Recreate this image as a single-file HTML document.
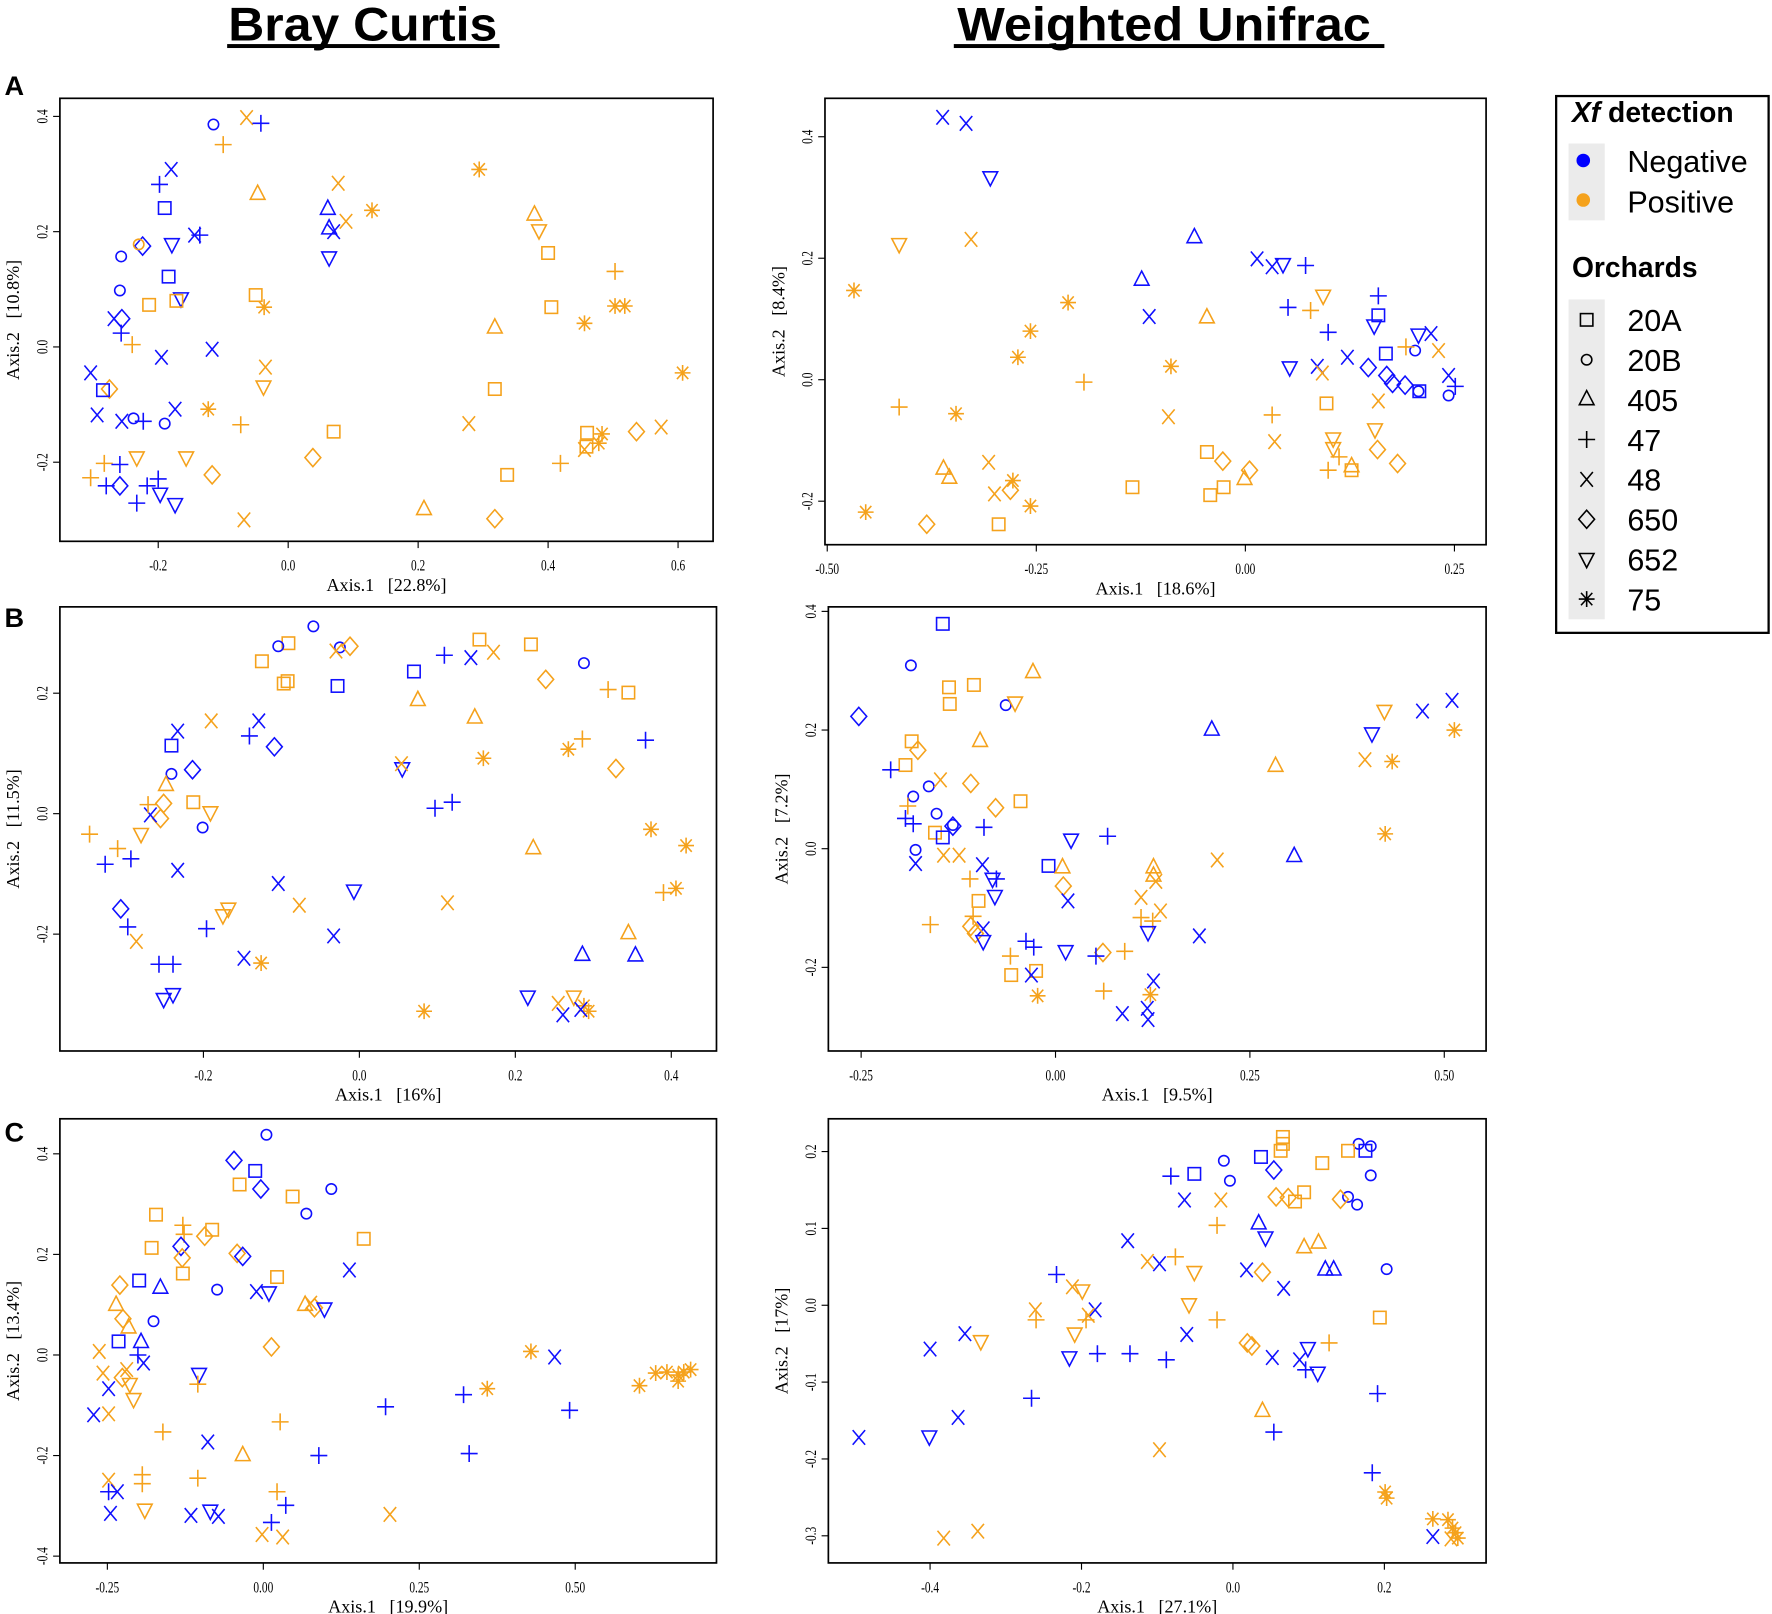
<!DOCTYPE html>
<html><head><meta charset="utf-8"><style>html,body{margin:0;padding:0;background:#fff}svg{display:block}</style></head>
<body>
<svg id="fig" xmlns="http://www.w3.org/2000/svg" width="1772" height="1614" viewBox="0 0 1568 1428.2" preserveAspectRatio="none">
<rect x="0" y="0" width="1568" height="1428.2" fill="#fff"/>
<g>
<text x="321" y="36" text-anchor="middle" font-family="Liberation Sans, sans-serif" font-weight="bold" font-size="42" textLength="238" lengthAdjust="spacingAndGlyphs">Bray Curtis</text>
<rect x="201" y="39" width="241" height="3.5" fill="#000"/></g>
<g>
<text x="1030" y="36" text-anchor="middle" font-family="Liberation Sans, sans-serif" font-weight="bold" font-size="42" textLength="366" lengthAdjust="spacingAndGlyphs">Weighted Unifrac</text>
<rect x="844" y="39" width="381" height="3.5" fill="#000"/></g>
<text x="4" y="84" font-family="Liberation Sans, sans-serif" font-weight="bold" font-size="24">A</text>
<text x="4" y="555" font-family="Liberation Sans, sans-serif" font-weight="bold" font-size="24">B</text>
<text x="4" y="1010" font-family="Liberation Sans, sans-serif" font-weight="bold" font-size="24">C</text>
<g>
<rect x="1377" y="85" width="188" height="475" fill="#fff" stroke="#000" stroke-width="2"/>
<text x="1391" y="108" font-family="Liberation Sans, sans-serif" font-weight="bold" font-size="25"><tspan font-style="italic">Xf</tspan> detection</text>
<rect x="1388" y="127" width="32" height="68" fill="#ebebeb"/>
<circle cx="1401" cy="142" r="6" fill="#0000ff"/>
<circle cx="1401" cy="177" r="6" fill="#f5a21c"/>
<text x="1440" y="152" font-family="Liberation Sans, sans-serif" font-size="27">Negative</text>
<text x="1440" y="188" font-family="Liberation Sans, sans-serif" font-size="27">Positive</text>
<text x="1391" y="245" font-family="Liberation Sans, sans-serif" font-weight="bold" font-size="25">Orchards</text>
<rect x="1388" y="265" width="32" height="283" fill="#ebebeb"/>
<g id="legShapes"></g>
</g>
<g id="panels"></g>
</svg>
<script>
const NS="http://www.w3.org/2000/svg";
const orchardNames=["20A","20B","405","47","48","650","652","75"];
const orchardShapes=["s","o","t","p","x","d","v","a"];
const groupColors={b:"#1010ff",o:"#f5a21c"};
// [axis1, axis2, shape, group]
const pointsA_BC=[[-0.115,0.386,"o","b"],[-0.064,0.398,"x","o"],[-0.042,0.388,"p","b"],[-0.10,0.351,"p","o"],[-0.18,0.308,"x","b"],[-0.198,0.282,"p","b"],[-0.19,0.241,"s","b"],[-0.047,0.265,"t","o"],[0.077,0.284,"x","o"],[0.294,0.308,"a","o"],[0.061,0.239,"t","b"],[0.063,0.205,"t","b"],[0.07,0.2,"x","b"],[0.089,0.218,"x","o"],[0.129,0.237,"a","o"],[0.063,0.155,"v","b"],[0.379,0.229,"t","o"],[0.386,0.202,"v","o"],[0.40,0.163,"s","o"],[-0.257,0.157,"o","b"],[-0.224,0.175,"d","b"],[-0.23,0.178,"o","o"],[-0.179,0.178,"v","b"],[-0.136,0.194,"p","b"],[-0.144,0.194,"x","b"],[-0.184,0.122,"s","b"],[-0.259,0.098,"o","b"],[-0.165,0.084,"v","b"],[-0.172,0.08,"s","o"],[-0.214,0.073,"s","o"],[-0.05,0.09,"s","o"],[-0.037,0.069,"a","o"],[0.405,0.069,"s","o"],[0.503,0.131,"p","o"],[0.503,0.071,"a","o"],[0.518,0.071,"a","o"],[0.456,0.041,"a","o"],[-0.256,0.049,"d","b"],[-0.268,0.049,"x","b"],[-0.257,0.024,"p","b"],[-0.24,0.004,"p","o"],[0.318,0.033,"t","o"],[-0.195,-0.018,"x","b"],[-0.117,-0.004,"x","b"],[-0.035,-0.035,"x","o"],[-0.038,-0.069,"v","o"],[0.607,-0.045,"a","o"],[-0.304,-0.045,"x","b"],[-0.275,-0.073,"d","o"],[-0.285,-0.075,"s","b"],[0.318,-0.073,"s","o"],[-0.294,-0.118,"x","b"],[-0.238,-0.124,"o","b"],[-0.19,-0.133,"o","b"],[-0.223,-0.129,"p","b"],[-0.174,-0.108,"x","b"],[-0.256,-0.129,"x","b"],[-0.123,-0.108,"a","o"],[-0.073,-0.135,"p","o"],[0.07,-0.147,"s","o"],[0.278,-0.133,"x","o"],[-0.233,-0.192,"v","o"],[-0.157,-0.192,"v","o"],[-0.117,-0.222,"d","o"],[0.038,-0.192,"d","o"],[0.46,-0.149,"s","o"],[0.456,-0.178,"x","o"],[0.459,-0.173,"s","o"],[0.483,-0.151,"a","o"],[0.478,-0.167,"a","o"],[0.536,-0.147,"d","o"],[0.574,-0.139,"x","o"],[0.419,-0.202,"p","o"],[0.337,-0.222,"s","o"],[-0.283,-0.202,"p","o"],[-0.304,-0.227,"p","o"],[-0.259,-0.204,"p","b"],[-0.28,-0.241,"p","b"],[-0.259,-0.241,"d","b"],[-0.217,-0.241,"p","b"],[-0.20,-0.229,"p","b"],[-0.233,-0.271,"p","b"],[-0.197,-0.255,"v","b"],[-0.174,-0.273,"v","b"],[-0.068,-0.30,"x","o"],[0.209,-0.282,"t","o"],[0.318,-0.298,"d","o"]];
const pointsA_WU=[[-0.362,0.432,"x","b"],[-0.334,0.422,"x","b"],[-0.305,0.333,"v","b"],[-0.414,0.223,"v","o"],[-0.328,0.231,"x","o"],[-0.468,0.147,"a","o"],[-0.061,0.234,"t","b"],[-0.124,0.164,"t","b"],[-0.115,0.104,"x","b"],[-0.046,0.102,"t","o"],[-0.212,0.127,"a","o"],[-0.257,0.08,"a","o"],[-0.272,0.037,"a","o"],[-0.089,0.022,"a","o"],[-0.193,-0.004,"p","o"],[-0.414,-0.045,"p","o"],[-0.346,-0.056,"a","o"],[-0.092,-0.061,"x","o"],[0.014,0.199,"x","b"],[0.032,0.186,"x","b"],[0.045,0.19,"v","b"],[0.072,0.188,"p","b"],[0.051,0.119,"p","b"],[0.078,0.114,"p","o"],[0.093,0.138,"v","o"],[0.159,0.138,"p","b"],[0.159,0.106,"s","b"],[0.154,0.089,"v","b"],[0.222,0.076,"x","b"],[0.207,0.074,"v","b"],[0.203,0.048,"o","b"],[0.231,0.048,"x","o"],[0.192,0.054,"p","o"],[0.099,0.078,"p","b"],[0.053,0.02,"v","b"],[0.086,0.022,"x","b"],[0.122,0.037,"x","b"],[0.147,0.02,"d","b"],[0.169,0.007,"d","b"],[0.176,-0.006,"d","b"],[0.191,-0.009,"d","b"],[0.168,0.043,"s","b"],[0.207,-0.019,"o","b"],[0.243,-0.026,"o","b"],[0.251,-0.011,"p","b"],[0.243,0.007,"x","b"],[0.208,-0.019,"s","b"],[0.092,0.011,"x","o"],[0.097,-0.039,"s","o"],[0.159,-0.035,"x","o"],[0.105,-0.097,"v","o"],[0.155,-0.082,"v","o"],[0.105,-0.113,"v","o"],[0.182,-0.138,"d","o"],[0.158,-0.115,"d","o"],[0.032,-0.058,"p","o"],[0.035,-0.102,"x","o"],[0.112,-0.127,"p","o"],[0.099,-0.149,"p","o"],[0.127,-0.143,"t","o"],[0.127,-0.149,"s","o"],[-0.046,-0.119,"s","o"],[-0.027,-0.134,"d","o"],[-0.026,-0.177,"s","o"],[-0.042,-0.19,"s","o"],[0.005,-0.149,"d","o"],[-0.001,-0.164,"t","o"],[-0.135,-0.177,"s","o"],[-0.361,-0.147,"t","o"],[-0.354,-0.162,"t","o"],[-0.307,-0.136,"x","o"],[-0.278,-0.166,"a","o"],[-0.281,-0.182,"d","o"],[-0.30,-0.188,"x","o"],[-0.257,-0.208,"a","o"],[-0.454,-0.218,"a","o"],[-0.381,-0.238,"d","o"],[-0.295,-0.238,"s","o"]];
const pointsB_BC=[[-0.059,0.311,"o","b"],[-0.125,0.253,"s","o"],[-0.091,0.283,"s","o"],[-0.104,0.278,"o","b"],[-0.097,0.216,"s","o"],[-0.092,0.22,"s","o"],[-0.025,0.276,"o","b"],[-0.012,0.278,"d","o"],[-0.03,0.27,"x","o"],[-0.028,0.212,"s","b"],[0.07,0.236,"s","b"],[0.109,0.263,"p","b"],[0.143,0.259,"x","b"],[0.154,0.289,"s","o"],[0.172,0.268,"x","o"],[0.22,0.281,"s","o"],[0.288,0.25,"o","b"],[0.239,0.223,"d","o"],[0.319,0.206,"p","o"],[0.345,0.201,"s","o"],[0.075,0.188,"t","o"],[0.148,0.159,"t","o"],[0.367,0.122,"p","b"],[0.329,0.075,"d","o"],[0.268,0.107,"a","o"],[0.286,0.124,"p","o"],[0.159,0.092,"a","o"],[0.055,0.075,"v","b"],[0.054,0.083,"x","o"],[-0.19,0.154,"x","o"],[-0.129,0.154,"x","b"],[-0.141,0.129,"p","b"],[-0.109,0.111,"d","b"],[-0.233,0.137,"x","b"],[-0.241,0.113,"s","b"],[-0.241,0.066,"o","b"],[-0.214,0.073,"d","b"],[-0.248,0.047,"t","o"],[-0.251,0.017,"d","o"],[-0.255,-0.008,"d","o"],[-0.268,-0.002,"x","b"],[-0.28,-0.034,"v","o"],[-0.271,0.015,"p","o"],[-0.213,0.019,"s","o"],[-0.191,0.002,"v","o"],[-0.201,-0.023,"o","b"],[0.097,0.009,"p","b"],[0.119,0.019,"p","b"],[0.223,-0.058,"t","o"],[-0.346,-0.034,"p","o"],[-0.31,-0.058,"p","o"],[-0.326,-0.084,"p","b"],[-0.293,-0.075,"p","b"],[-0.233,-0.094,"x","b"],[-0.196,-0.191,"p","b"],[-0.104,-0.116,"x","b"],[-0.007,-0.128,"v","b"],[-0.077,-0.152,"x","o"],[0.113,-0.148,"x","o"],[-0.175,-0.169,"v","o"],[-0.168,-0.158,"v","o"],[-0.033,-0.203,"x","b"],[-0.306,-0.158,"d","b"],[-0.297,-0.188,"p","b"],[-0.286,-0.212,"x","o"],[-0.257,-0.25,"p","b"],[-0.239,-0.25,"p","b"],[-0.251,-0.308,"v","b"],[-0.239,-0.30,"v","b"],[-0.148,-0.24,"x","b"],[-0.126,-0.248,"a","o"],[0.374,-0.026,"a","o"],[0.419,-0.053,"a","o"],[0.39,-0.131,"p","o"],[0.406,-0.124,"a","o"],[0.345,-0.199,"t","o"],[0.286,-0.235,"t","b"],[0.354,-0.236,"t","b"],[0.216,-0.304,"v","b"],[0.275,-0.304,"v","o"],[0.255,-0.315,"x","o"],[0.261,-0.334,"x","b"],[0.294,-0.328,"a","o"],[0.288,-0.319,"a","o"],[0.284,-0.325,"x","b"],[0.083,-0.328,"a","o"]];
const pointsB_WU=[[-0.145,0.379,"s","b"],[-0.186,0.309,"o","b"],[-0.137,0.272,"s","o"],[-0.105,0.276,"s","o"],[-0.136,0.244,"s","o"],[-0.029,0.297,"t","o"],[-0.064,0.242,"o","b"],[-0.052,0.246,"v","o"],[-0.253,0.223,"d","b"],[-0.185,0.181,"s","o"],[-0.193,0.141,"s","o"],[-0.097,0.181,"t","o"],[-0.177,0.166,"d","o"],[-0.212,0.133,"p","b"],[-0.163,0.105,"o","b"],[-0.109,0.11,"d","o"],[-0.077,0.069,"d","o"],[-0.045,0.08,"s","o"],[-0.148,0.116,"x","o"],[-0.183,0.088,"o","b"],[-0.19,0.072,"p","o"],[-0.193,0.051,"p","b"],[-0.183,0.042,"p","b"],[-0.153,0.059,"o","b"],[-0.132,0.04,"o","b"],[-0.132,0.038,"d","b"],[-0.155,0.027,"s","o"],[-0.145,0.019,"s","b"],[-0.18,-0.002,"o","b"],[-0.18,-0.025,"x","b"],[-0.144,-0.011,"x","o"],[-0.092,0.036,"p","b"],[-0.094,-0.027,"x","b"],[-0.124,-0.011,"x","o"],[-0.11,-0.051,"p","o"],[-0.081,-0.051,"v","b"],[-0.078,-0.08,"v","b"],[-0.076,-0.051,"p","b"],[-0.099,-0.088,"s","o"],[-0.106,-0.114,"p","o"],[-0.093,-0.135,"x","b"],[-0.109,-0.131,"d","o"],[-0.103,-0.143,"d","o"],[-0.093,-0.156,"v","b"],[-0.161,-0.128,"p","o"],[-0.057,-0.213,"s","o"],[-0.025,-0.206,"s","o"],[-0.058,-0.181,"p","o"],[-0.038,-0.156,"p","b"],[-0.028,-0.166,"p","b"],[-0.031,-0.213,"x","b"],[-0.023,-0.248,"a","o"],[0.02,0.015,"v","b"],[0.067,0.021,"p","b"],[-0.009,-0.029,"s","b"],[0.009,-0.032,"t","o"],[0.01,-0.063,"d","o"],[0.016,-0.088,"x","b"],[0.013,-0.173,"v","b"],[0.061,-0.175,"d","o"],[0.052,-0.181,"p","b"],[0.062,-0.24,"p","o"],[0.086,-0.278,"x","b"],[0.126,-0.032,"t","o"],[0.126,-0.046,"t","o"],[0.129,-0.055,"x","o"],[0.11,-0.116,"p","o"],[0.125,-0.122,"p","o"],[0.11,-0.082,"x","o"],[0.119,-0.141,"v","b"],[0.135,-0.105,"x","o"],[0.126,-0.223,"x","b"],[0.122,-0.246,"a","o"],[0.119,-0.288,"x","b"],[0.118,-0.269,"x","b"],[0.089,-0.173,"p","o"],[0.185,-0.147,"x","b"],[0.201,0.20,"t","b"],[0.208,-0.019,"x","o"],[0.307,-0.013,"t","b"],[0.283,0.139,"t","o"],[0.407,0.194,"v","b"],[0.423,0.232,"v","o"],[0.398,0.15,"x","o"],[0.472,0.232,"x","b"],[0.51,0.25,"x","b"],[0.433,0.147,"a","o"],[0.513,0.20,"a","o"],[0.424,0.025,"a","o"]];
const pointsC_BC=[[0.005,0.438,"o","b"],[-0.047,0.387,"d","b"],[-0.013,0.366,"s","b"],[-0.004,0.33,"d","b"],[-0.038,0.339,"s","o"],[0.109,0.33,"o","b"],[0.047,0.315,"s","o"],[0.069,0.281,"o","b"],[-0.172,0.279,"s","o"],[-0.129,0.258,"p","o"],[-0.127,0.24,"p","o"],[-0.082,0.249,"s","o"],[0.161,0.231,"s","o"],[-0.179,0.213,"s","o"],[-0.132,0.216,"d","b"],[0.138,0.169,"x","b"],[-0.094,0.236,"d","o"],[-0.042,0.202,"d","o"],[-0.033,0.196,"d","b"],[-0.129,0.162,"s","o"],[-0.13,0.193,"d","o"],[-0.074,0.13,"o","b"],[0.022,0.155,"s","o"],[-0.011,0.126,"x","b"],[0.009,0.124,"v","b"],[-0.199,0.148,"s","b"],[-0.23,0.139,"d","o"],[-0.165,0.133,"t","b"],[-0.176,0.067,"o","b"],[-0.236,0.099,"t","o"],[-0.225,0.072,"d","o"],[-0.216,0.054,"t","o"],[-0.196,0.025,"t","b"],[-0.232,0.027,"s","b"],[-0.201,0.0,"p","b"],[-0.192,-0.016,"x","b"],[-0.263,0.007,"x","o"],[-0.219,-0.029,"x","o"],[-0.226,-0.045,"d","o"],[-0.214,-0.058,"v","o"],[-0.208,-0.088,"v","o"],[-0.257,-0.036,"x","o"],[-0.248,-0.067,"x","b"],[-0.272,-0.119,"x","b"],[-0.248,-0.117,"x","o"],[-0.161,-0.153,"p","o"],[0.067,0.099,"t","o"],[0.082,0.094,"d","o"],[0.076,0.103,"x","o"],[0.098,0.092,"v","b"],[0.013,0.016,"d","o"],[-0.103,-0.038,"v","b"],[-0.105,-0.058,"p","o"],[0.027,-0.133,"p","o"],[-0.089,-0.173,"x","b"],[-0.033,-0.20,"t","o"],[0.089,-0.20,"p","b"],[-0.194,-0.238,"p","o"],[-0.194,-0.256,"p","o"],[-0.19,-0.308,"v","o"],[-0.105,-0.245,"p","o"],[-0.248,-0.249,"x","o"],[-0.248,-0.272,"p","b"],[-0.234,-0.272,"x","b"],[-0.245,-0.315,"x","b"],[-0.116,-0.319,"x","b"],[-0.085,-0.31,"v","b"],[-0.072,-0.321,"x","b"],[0.022,-0.272,"p","o"],[0.036,-0.299,"p","b"],[0.013,-0.333,"p","b"],[-0.002,-0.357,"x","o"],[0.031,-0.362,"x","o"],[0.203,-0.317,"x","o"],[0.196,-0.103,"p","b"],[0.321,-0.079,"p","b"],[0.359,-0.067,"a","o"],[0.33,-0.196,"p","b"],[0.429,0.007,"a","o"],[0.467,-0.004,"x","b"],[0.491,-0.11,"p","b"],[0.603,-0.061,"a","o"],[0.629,-0.036,"a","o"],[0.647,-0.034,"a","o"],[0.665,-0.04,"a","o"],[0.674,-0.034,"a","o"],[0.685,-0.029,"a","o"],[0.665,-0.052,"a","o"]];
const pointsC_WU=[[0.166,0.21,"o","b"],[0.182,0.207,"o","b"],[0.175,0.201,"s","b"],[0.152,0.201,"s","o"],[0.066,0.219,"s","o"],[0.066,0.21,"s","o"],[0.063,0.201,"s","o"],[0.037,0.193,"s","b"],[-0.051,0.171,"s","b"],[-0.082,0.168,"p","b"],[-0.012,0.188,"o","b"],[-0.004,0.162,"o","b"],[0.054,0.176,"d","b"],[0.118,0.185,"s","o"],[0.057,0.141,"d","o"],[0.073,0.14,"d","o"],[0.094,0.147,"s","o"],[0.082,0.135,"s","o"],[0.152,0.141,"o","b"],[0.164,0.131,"o","b"],[-0.016,0.137,"x","o"],[-0.064,0.137,"x","b"],[0.142,0.138,"d","o"],[0.182,0.169,"o","b"],[-0.021,0.104,"p","o"],[0.034,0.106,"t","b"],[0.043,0.088,"v","b"],[0.094,0.075,"t","o"],[0.113,0.081,"t","o"],[-0.139,0.084,"x","b"],[-0.113,0.057,"x","o"],[-0.097,0.054,"x","b"],[-0.076,0.063,"p","o"],[-0.051,0.043,"v","o"],[0.018,0.046,"x","b"],[0.122,0.046,"t","b"],[0.133,0.046,"t","b"],[0.203,0.047,"o","b"],[0.039,0.043,"d","o"],[0.067,0.022,"x","b"],[-0.058,0.001,"v","o"],[-0.021,-0.019,"p","o"],[-0.061,-0.038,"x","b"],[0.194,-0.016,"s","o"],[-0.212,0.024,"x","o"],[-0.199,0.019,"v","o"],[-0.261,-0.006,"x","o"],[-0.26,-0.019,"p","o"],[-0.182,-0.006,"x","b"],[-0.191,-0.013,"x","o"],[-0.194,-0.019,"p","o"],[-0.209,-0.037,"v","o"],[-0.233,0.04,"p","b"],[-0.333,-0.047,"v","o"],[-0.354,-0.037,"x","b"],[-0.40,-0.057,"x","b"],[-0.179,-0.063,"p","b"],[-0.136,-0.063,"p","b"],[-0.088,-0.071,"p","b"],[-0.363,-0.146,"x","b"],[-0.401,-0.171,"v","b"],[-0.494,-0.172,"x","b"],[-0.216,-0.068,"v","b"],[-0.266,-0.121,"p","b"],[0.019,-0.049,"d","o"],[0.025,-0.053,"d","o"],[0.127,-0.049,"p","o"],[0.052,-0.068,"x","b"],[0.039,-0.138,"t","o"],[0.088,-0.071,"x","b"],[0.099,-0.056,"v","b"],[0.112,-0.088,"v","b"],[0.096,-0.084,"p","b"],[0.054,-0.165,"p","b"],[-0.097,-0.188,"x","o"],[0.191,-0.115,"p","b"],[0.184,-0.218,"p","b"],[0.201,-0.243,"a","o"],[0.203,-0.251,"a","o"],[-0.382,-0.303,"x","o"],[-0.337,-0.294,"x","o"],[0.264,-0.278,"a","o"],[0.284,-0.279,"a","o"],[0.29,-0.29,"a","o"],[0.294,-0.296,"a","o"],[0.297,-0.303,"a","o"],[0.264,-0.301,"x","b"],[0.288,-0.304,"x","o"]];
const xTicksA_BC=[-0.2,0,0.2,0.4,0.6], xLabelsA_BC=["-0.2","0.0","0.2","0.4","0.6"];
const yTicksA_BC=[-0.2,0,0.2,0.4], yLabelsA_BC=["-0.2","0.0","0.2","0.4"];
const xTicksA_WU=[-0.5,-0.25,0,0.25], xLabelsA_WU=["-0.50","-0.25","0.00","0.25"];
const yTicksA_WU=[-0.2,0,0.2,0.4], yLabelsA_WU=["-0.2","0.0","0.2","0.4"];
const xTicksB_BC=[-0.2,0,0.2,0.4], xLabelsB_BC=["-0.2","0.0","0.2","0.4"];
const yTicksB_BC=[-0.2,0,0.2], yLabelsB_BC=["-0.2","0.0","0.2"];
const xTicksB_WU=[-0.25,0,0.25,0.5], xLabelsB_WU=["-0.25","0.00","0.25","0.50"];
const yTicksB_WU=[-0.2,0,0.2,0.4], yLabelsB_WU=["-0.2","0.0","0.2","0.4"];
const xTicksC_BC=[-0.25,0,0.25,0.5], xLabelsC_BC=["-0.25","0.00","0.25","0.50"];
const yTicksC_BC=[-0.4,-0.2,0,0.2,0.4], yLabelsC_BC=["-0.4","-0.2","0.0","0.2","0.4"];
const xTicksC_WU=[-0.4,-0.2,0,0.2], xLabelsC_WU=["-0.4","-0.2","0.0","0.2"];
const yTicksC_WU=[-0.3,-0.2,-0.1,0,0.1,0.2], yLabelsC_WU=["-0.3","-0.2","-0.1","0.0","0.1","0.2"];
const varX=["22.8%","18.6%","16%","9.5%","19.9%","27.1%"];
const varY=["10.8%","8.4%","11.5%","7.2%","13.4%","17%"];

function el(tag,attrs,parent){const e=document.createElementNS(NS,tag);for(const k in attrs)e.setAttribute(k,attrs[k]);parent.appendChild(e);return e;}
function marker(g,shape,x,y,col){
  const st={fill:"none",stroke:col,"stroke-width":1.4};
  let e;
  if(shape==="s")e=el("rect",Object.assign({x:x-5.5,y:y-5.5,width:11,height:11},st),g);
  else if(shape==="o")e=el("circle",Object.assign({cx:x,cy:y,r:4.6},st),g);
  else if(shape==="t")e=el("path",Object.assign({d:`M${x},${y-8}L${x+6.5},${y+4.5}L${x-6.5},${y+4.5}Z`},st),g);
  else if(shape==="v")e=el("path",Object.assign({d:`M${x-6.5},${y-5}L${x+6.5},${y-5}L${x},${y+7.5}Z`},st),g);
  else if(shape==="p")e=el("path",Object.assign({d:`M${x-7.5},${y}H${x+7.5}M${x},${y-7.5}V${y+7.5}`},st),g);
  else if(shape==="x")e=el("path",Object.assign({d:`M${x-5.5},${y-6.5}L${x+5.5},${y+6.5}M${x-5.5},${y+6.5}L${x+5.5},${y-6.5}`},st),g);
  else if(shape==="d")e=el("path",Object.assign({d:`M${x},${y-8}L${x+7},${y}L${x},${y+8}L${x-7},${y}Z`},st),g);
  else e=el("path",Object.assign({d:`M${x-7},${y}H${x+7}M${x-5},${y-5.5}L${x+5},${y+5.5}M${x-5},${y+5.5}L${x+5},${y-5.5}M${x},${y-7}V${y+7}`},st),g);
  
  
  return e;
}
const panels=[
 {id:"a-bray-curtis",box:[53,87,631,479],x0:255,kx:575,y0:307,ky:510,pts:pointsA_BC,xt:xTicksA_BC,xl:xLabelsA_BC,yt:yTicksA_BC,yl:yLabelsA_BC},
 {id:"a-weighted-unifrac",box:[730,87,1315,482],x0:1102,kx:740,y0:336,ky:537.5,pts:pointsA_WU,xt:xTicksA_WU,xl:xLabelsA_WU,yt:yTicksA_WU,yl:yLabelsA_WU},
 {id:"b-bray-curtis",box:[53,537,634,930],x0:318,kx:690,y0:720,ky:533,pts:pointsB_BC,xt:xTicksB_BC,xl:xLabelsB_BC,yt:yTicksB_BC,yl:yLabelsB_BC},
 {id:"b-weighted-unifrac",box:[733,537,1315,930],x0:934,kx:688,y0:751,ky:525,pts:pointsB_WU,xt:xTicksB_WU,xl:xLabelsB_WU,yt:yTicksB_WU,yl:yLabelsB_WU},
 {id:"c-bray-curtis",box:[53,990,634,1383],x0:233,kx:552,y0:1199,ky:445,pts:pointsC_BC,xt:xTicksC_BC,xl:xLabelsC_BC,yt:yTicksC_BC,yl:yLabelsC_BC},
 {id:"c-weighted-unifrac",box:[733,990,1315,1383],x0:1091,kx:670,y0:1155,ky:680,pts:pointsC_WU,xt:xTicksC_WU,xl:xLabelsC_WU,yt:yTicksC_WU,yl:yLabelsC_WU}
];
const root=document.getElementById("panels");
const SP="\u00a0\u00a0\u00a0";
panels.forEach((p,i)=>{
  const g=el("g",{},root);
  
  
  const [x1,y1,x2,y2]=p.box;
  const sx=v=>p.x0+v*p.kx, sy=v=>p.y0-v*p.ky;
  const fr=el("rect",{x:x1,y:y1,width:x2-x1,height:y2-y1,fill:"none",stroke:"#000","stroke-width":1.5},g);
  
  
  p.xt.forEach((v,j)=>{
    el("line",{x1:sx(v),x2:sx(v),y1:y2,y2:y2+6,stroke:"#000","stroke-width":1},g);
    const t=el("text",{x:0,y:0,"text-anchor":"middle","font-family":"Liberation Serif, serif","font-size":14,transform:`translate(${sx(v)},${y2+26}) scale(0.72,1)`},g);
    t.textContent=p.xl[j];
    
    
  });
  p.yt.forEach((v,j)=>{
    el("line",{x1:x1-6,x2:x1,y1:sy(v),y2:sy(v),stroke:"#000","stroke-width":1},g);
    const t=el("text",{x:0,y:0,"text-anchor":"middle","font-family":"Liberation Serif, serif","font-size":14,transform:`translate(${x1-11},${sy(v)}) rotate(-90) scale(0.72,1)`},g);
    t.textContent=p.yl[j];
    
    
  });
  const xt=el("text",{x:(x1+x2)/2,y:y2+44,"text-anchor":"middle","font-family":"Liberation Serif, serif","font-size":16},g);
  xt.textContent="Axis.1"+SP+"["+varX[i]+"]";
  
  
  const yt=el("text",{x:0,y:0,"text-anchor":"middle","font-family":"Liberation Serif, serif","font-size":16,transform:`translate(${x1-36},${(y1+y2)/2}) rotate(-90)`},g);
  yt.textContent="Axis.2"+SP+"["+varY[i]+"]";
  
  
  p.pts.forEach(d=>marker(g,d[2],sx(d[0]),sy(d[1]),groupColors[d[3]]));
});
const lg=document.getElementById("legShapes");
orchardNames.forEach((n,k)=>{
  const y=283+k*35.3;
  marker(lg,orchardShapes[k],1404,y,"#000");
  const t=el("text",{x:1440,y:y+10,"font-family":"Liberation Sans, sans-serif","font-size":27},lg);
  t.textContent=n;
  
  
});
</script>
</body></html>
